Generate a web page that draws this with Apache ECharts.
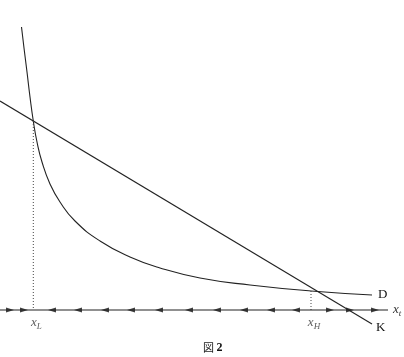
<!DOCTYPE html>
<html><head><meta charset="utf-8">
<script src="https://cdn.jsdelivr.net/npm/echarts@6/dist/echarts.min.js"></script>
<style>html,body{margin:0;padding:0;background:#fff}#c{width:404px;height:357px}</style>
</head><body><div id="c"></div>
<script>
// Data units: x to the right, y = height above the x_t axis
var curveD_x = [21.5, 24, 27, 30, 33.3, 37, 42, 50, 60, 75, 100, 130, 160, 200, 250, 311, 372];
var curveD_y = [283, 262, 238, 213, 189, 168, 148, 126, 108, 89, 69, 53, 42, 32, 25, 19, 15];
var lineK_x = [0, 372];
var lineK_y = [209, -14];
var xL = 33.3, yL = 189;
var xH = 311, yH = 19;
var axisStart = 0, axisEnd = 388;
var arrowsRight = [10, 24, 330, 350, 375];
var arrowsLeft = [52, 78, 105, 131, 159, 189, 217, 244, 271, 296];
var labelD = 'D', labelK = 'K', caption = '図 ', captionNum = '2';

var ink = '#222';
var serif = '"Liberation Serif","DejaVu Serif",serif';
function zip(a, b) { return a.map(function (v, i) { return [v, b[i]]; }); }

var chart = echarts.init(document.getElementById('c'), null, {renderer: 'canvas'});
chart.setOption({
  animation: false,
  grid: {left: 0, right: 0, top: 0, bottom: 0},
  xAxis: {type: 'value', min: 0, max: 404, show: false},
  yAxis: {type: 'value', min: -47, max: 310, show: false},
  series: [
    {type: 'line', data: zip(curveD_x, curveD_y), smooth: 0.5, symbol: 'none',
     lineStyle: {color: ink, width: 1.1},
     endLabel: {show: true, formatter: labelD, fontFamily: serif, fontSize: 13, color: '#111', distance: 6}},
    {type: 'line', data: zip(lineK_x, lineK_y), symbol: 'none',
     lineStyle: {color: ink, width: 1.1},
     endLabel: {show: true, formatter: labelK, fontFamily: serif, fontSize: 13, color: '#111', distance: 4, offset: [0, 4]}},
    {type: 'line', data: [[xL, yL], [xL, 0]], symbol: 'none',
     lineStyle: {color: '#444', width: 1, type: [1, 2]}},
    {type: 'line', data: [[xH, yH], [xH, 0]], symbol: 'none',
     lineStyle: {color: '#444', width: 1, type: [1, 2]}},
    {type: 'line', data: [[axisStart, 0], [axisEnd, 0]], symbol: 'none',
     lineStyle: {color: ink, width: 1.1},
     endLabel: {show: true, formatter: '{i|x}{s|t}', distance: 5,
       rich: {i: {fontFamily: serif, fontStyle: 'italic', fontSize: 13, color: '#333'},
              s: {fontFamily: serif, fontStyle: 'italic', fontSize: 9, color: '#333', padding: [8, 0, 0, 0]}}}},
    {type: 'scatter', data: arrowsRight.map(function (x) { return [x, 0]; }),
     symbol: 'triangle', symbolSize: [5, 8], symbolRotate: -90, itemStyle: {color: '#111'}},
    {type: 'scatter', data: arrowsLeft.map(function (x) { return [x, 0]; }),
     symbol: 'triangle', symbolSize: [5, 8], symbolRotate: 90, itemStyle: {color: '#111'}},
    {type: 'scatter', symbolSize: 0,
     data: [
       {value: [xL, 0], name: 'L'},
       {value: [xH, 0], name: 'H'}
     ],
     label: {show: true, position: 'bottom', distance: 4, offset: [3, 0],
       formatter: function (p) { return '{i|x}{s|' + p.name + '}'; },
       rich: {i: {fontFamily: serif, fontStyle: 'italic', fontSize: 13, color: '#333'},
              s: {fontFamily: serif, fontStyle: 'italic', fontSize: 9, color: '#333', padding: [8, 0, 0, 0]}}}}
  ],
  graphic: [{
    type: 'text', left: 203, top: 342,
    style: {text: '{c|' + caption + '}{n|' + captionNum + '}',
      rich: {c: {fontFamily: '"Noto Sans CJK JP"', fontSize: 11, fill: '#222'},
             n: {fontFamily: serif, fontWeight: 'bold', fontSize: 12, fill: '#111'}}}
  }]
});
</script></body></html>
